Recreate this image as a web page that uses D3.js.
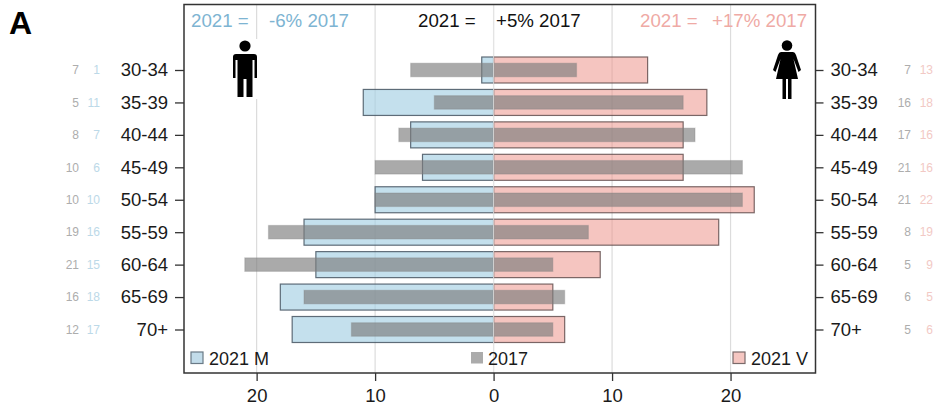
<!DOCTYPE html>
<html>
<head>
<meta charset="utf-8">
<script src="https://cdn.jsdelivr.net/npm/d3@7"></script>
<style>
    html, body { margin: 0; padding: 0; background: #fff; }
    svg { display: block; font-family: "Liberation Sans", Arial, sans-serif; }
</style>
</head>
<body>
<div id="chart"></div>
<script>
// Age groups, top to bottom
const ages = ["30-34", "35-39", "40-44", "45-49", "50-54", "55-59", "60-64", "65-69", "70+"];

// Counts per age group
const men2021 = [1, 11, 7, 6, 10, 16, 15, 18, 17];
const men2017 = [7, 5, 8, 10, 10, 19, 21, 16, 12];
const women2021 = [13, 18, 16, 16, 22, 19, 9, 5, 6];
const women2017 = [7, 16, 17, 21, 21, 8, 5, 6, 5];

const xTicks = [-20, -10, 0, 10, 20];
const legendLabels = ["2021 M", "2017", "2021 V"];
const headerLabels = ["2021 =", "-6% 2017", "2021 =", "+5% 2017", "2021 =", "+17% 2017"];

const blueFill = "rgba(160,205,226,0.62)";
const pinkFill = "rgba(237,150,140,0.55)";
const greyFill = "rgba(125,125,125,0.65)";
const greyEdge = "rgba(125,125,125,0.3)";
const blueEdge = "rgba(70,85,98,0.85)";
const pinkEdge = "rgba(90,70,70,0.8)";
const blueText = "#7db4d2";
const pinkText = "#efaaa5";

const margin = { top: 4.5, right: 120.5, bottom: 39, left: 184 };
const width = 936 - margin.left - margin.right;
const height = 412 - margin.top - margin.bottom;

const svg = d3.select("#chart")
    .append("svg")
    .attr("width", 936)
    .attr("height", 412)
    .append("g")
    .attr("transform", `translate(${margin.left},${margin.top})`);

const x = d3.scaleLinear().domain([-26.13, 27.17]).range([0, width]);
const y = d3.scalePoint().domain(ages).range([65.5, 325]);

// Grid lines sit under the bars
svg.selectAll(".grid")
    .data(xTicks)
    .enter()
    .append("line")
    .attr("class", "grid")
    .attr("x1", d => x(d))
    .attr("x2", d => x(d))
    .attr("y1", 0)
    .attr("y2", height)
    .attr("stroke", "#dcdcdc")
    .attr("stroke-width", 1.2);

// One set of bars; negative values go left
function drawBars(values, sign, barHeight, fill, stroke) {
    svg.append("g")
        .selectAll("rect")
        .data(values)
        .enter()
        .append("rect")
        .attr("x", d => Math.min(x(0), x(sign * d)))
        .attr("width", d => Math.abs(x(sign * d) - x(0)))
        .attr("y", (d, i) => y(ages[i]) - barHeight / 2)
        .attr("height", barHeight)
        .attr("fill", fill)
        .attr("stroke", stroke)
        .attr("stroke-width", 1.2);
}

drawBars(men2021, -1, 26, blueFill, blueEdge);
drawBars(women2021, 1, 26, pinkFill, pinkEdge);
drawBars(men2017, -1, 13.5, greyFill, greyEdge);
drawBars(women2017, 1, 13.5, greyFill, greyEdge);

// Zero line stays visible over the bars
svg.append("line")
    .attr("x1", x(0))
    .attr("x2", x(0))
    .attr("y1", 0)
    .attr("y2", height)
    .attr("stroke", "rgba(230,230,230,0.8)")
    .attr("stroke-width", 1.2);

// Plot box
svg.append("rect")
    .attr("width", width)
    .attr("height", height)
    .attr("fill", "none")
    .attr("stroke", "#333")
    .attr("stroke-width", 1.5);

// Axes
const axisBottom = svg.append("g")
    .attr("transform", `translate(0,${height})`)
    .call(d3.axisBottom(x).tickValues(xTicks).tickSize(8).tickPadding(8).tickFormat(d => Math.abs(d)));
const axisLeft = svg.append("g")
    .call(d3.axisLeft(y).tickSize(9).tickPadding(7));
const axisRight = svg.append("g")
    .attr("transform", `translate(${width},0)`)
    .call(d3.axisRight(y).tickSize(8).tickPadding(7));

[axisBottom, axisLeft, axisRight].forEach(axis => {
    axis.select(".domain").remove();
    axis.selectAll("line").attr("stroke", "#333").attr("stroke-width", 1.3);
    axis.selectAll("text").attr("font-size", 18.5).attr("font-family", "inherit").attr("fill", "#1a1a1a");
});
axisRight.selectAll("text").attr("text-anchor", "start");

// Small counts outside the labels
function drawCounts(values, px, color) {
    svg.append("g")
        .selectAll("text")
        .data(values)
        .enter()
        .append("text")
        .attr("x", px - margin.left)
        .attr("y", (d, i) => y(ages[i]))
        .attr("dy", "0.35em")
        .attr("text-anchor", "end")
        .attr("font-size", 12)
        .attr("fill", color)
        .text(d => d);
}

drawCounts(men2017, 79, "#adadad");
drawCounts(men2021, 100, "#bcd9e8");
drawCounts(women2017, 911, "#adadad");
drawCounts(women2021, 933, "#f2c9c5");

// Header text along the top of the box
const headerX = [191, 269, 418, 496, 640, 712];
const headerColors = [blueText, blueText, "#111", "#111", pinkText, pinkText];
svg.append("g")
    .selectAll("text")
    .data(headerLabels)
    .enter()
    .append("text")
    .attr("x", (d, i) => headerX[i] - margin.left)
    .attr("y", 27 - margin.top)
    .attr("font-size", 18.7)
    .attr("fill", (d, i) => headerColors[i])
    .text(d => d);

// Legend
const legendX = [191, 471, 733];
const legendFill = ["#c2dcea", "#ababab", "#f5c6c1"];
const legendStroke = ["#6a7a86", "none", "#7a6a6a"];
const legend = svg.append("g")
    .selectAll("g")
    .data(legendLabels)
    .enter()
    .append("g")
    .attr("transform", (d, i) => `translate(${legendX[i] - margin.left},${352 - margin.top})`);
legend.append("rect")
    .attr("width", 12)
    .attr("height", 11.5)
    .attr("fill", (d, i) => legendFill[i])
    .attr("stroke", (d, i) => legendStroke[i])
    .attr("stroke-width", 1.2);
legend.append("text")
    .attr("x", d => d === "2017" ? 17 : 18)
    .attr("y", 12.5)
    .attr("font-size", 18)
    .attr("fill", "#1a1a1a")
    .text(d => d);

// Pictograms, drawn around their own origin
const page = d3.select("#chart svg");

page.append("rect").attr("x", 232).attr("y", 39).attr("width", 27).attr("height", 60).attr("fill", "#fff");
const man = page.append("g").attr("transform", "translate(245,0)");
man.append("circle").attr("cx", 0).attr("cy", 46).attr("r", 5.6).attr("fill", "#000");
man.append("path")
    .attr("fill", "#000")
    .attr("d", "M-9,54 H9 Q12,54 12,57 V78 H9.5 V60 H7.5 V97 H1.5 V79 H-1.5 V97 H-7.5 V60 H-9.5 V78 H-12 V57 Q-12,54 -9,54 Z");

page.append("rect").attr("x", 771).attr("y", 39).attr("width", 30).attr("height", 62).attr("fill", "#fff");
const woman = page.append("g").attr("transform", "translate(787,0)");
woman.append("circle").attr("cx", 0).attr("cy", 45.5).attr("r", 5.3).attr("fill", "#000");
woman.append("path")
    .attr("fill", "#000")
    .attr("d", "M-6,52 H6 Q8,52 9,55 L14,70 L11.5,72 L6.5,59 L11,79 H4.5 V99 H1 V79 H-1 V99 H-4.5 V79 H-11 L-6.5,59 L-11.5,72 L-14,70 L-9,55 Q-8,52 -6,52 Z");

// Panel letter
page.append("text")
    .attr("x", 9)
    .attr("y", 34)
    .attr("font-size", 32)
    .attr("font-weight", "bold")
    .attr("fill", "#000")
    .text("A");
</script>
</body>
</html>
